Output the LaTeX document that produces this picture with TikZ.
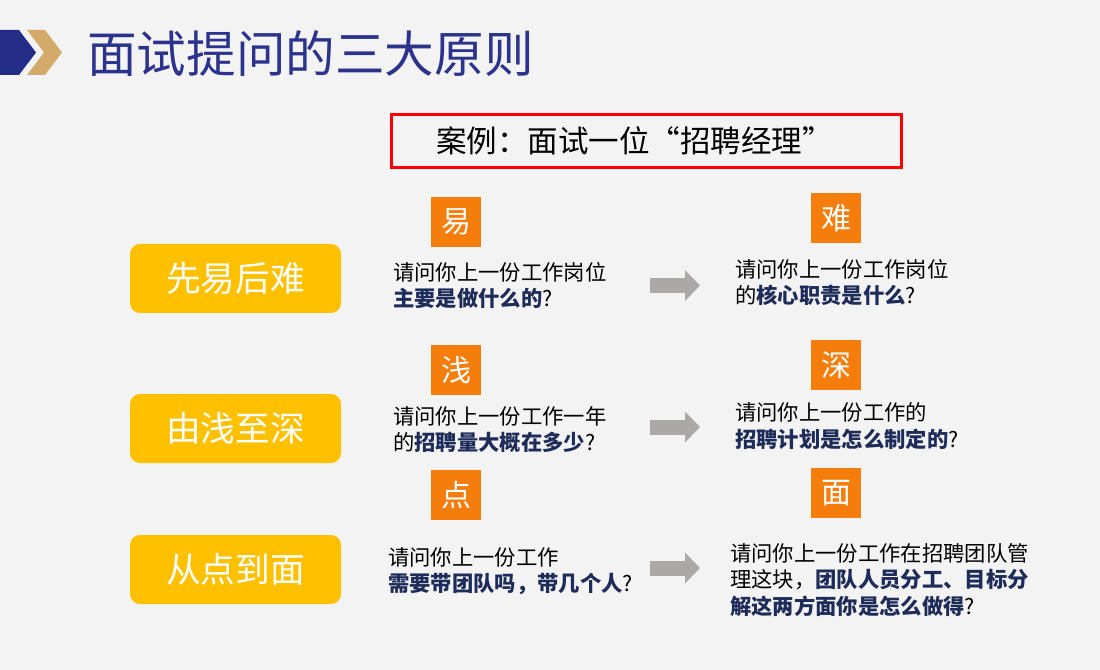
\documentclass[tikz,border=0pt]{standalone}
\usepackage{fontspec}
\setmainfont{Noto Sans CJK SC}
\usetikzlibrary{arrows.meta}
\definecolor{bgc}{HTML}{F3F3F3}
\definecolor{navy}{HTML}{232C87}
\definecolor{titleblue}{HTML}{2B338C}
\definecolor{gold}{HTML}{D4AA6A}
\definecolor{amber}{HTML}{FFC000}
\definecolor{orangebox}{HTML}{F47D0C}
\definecolor{grayarr}{HTML}{ACA8A8}
\definecolor{boldnavy}{HTML}{1E2C5A}
\definecolor{redline}{HTML}{FF0000}
\tikzset{
  px/.style={x=0.75pt,y=-0.75pt},
  principle/.style={fill=amber, rounded corners=7.5pt, minimum width=158.25pt, minimum height=51.75pt, inner sep=0pt, text=white, font=\fontsize{26}{30}\selectfont},
  orangesq/.style={fill=orangebox, minimum size=37.5pt, inner sep=0pt, text=white, font=\fontsize{22.5}{26}\selectfont},
  qline/.style={anchor=west, inner sep=0pt, text=black, font=\fontsize{16}{19}\selectfont},
  grayarrow/.style={draw=grayarr, line width=11.25pt, -{Triangle[length=11.25pt,width=22.5pt]}, grayarr},
}
\newcommand{\hl}[1]{\textcolor{boldnavy}{\bfseries #1}}
\begin{document}
\begin{tikzpicture}[px]
\useasboundingbox (0,0) rectangle (1100,670);
\fill[bgc] (0,0) rectangle (1100,670);
% chevrons
\fill[navy] (0,30) -- (19,30) -- (36,52.5) -- (19,75) -- (0,75) -- cycle;
\fill[gold] (27,30) -- (45,30) -- (62,52.5) -- (45,75) -- (27,75) -- (44,52.5) -- cycle;
\node[anchor=west, inner sep=0pt, text=titleblue, font=\fontsize{37.2}{41}\selectfont] (title) at (87,54) {面试提问的三大原则};
% case box
\node[draw=redline, line width=2.25pt, minimum width=382.5pt, minimum height=39.75pt, inner sep=0pt, font=\fontsize{22.9}{27}\selectfont] (case) at (646.5,141) {案例：面试一位“招聘经理”\hspace*{18pt}};
% principles
\node[principle] (p1) at (235.5,278.5) {先易后难};
\node[principle] (p2) at (235.5,428.5) {由浅至深};
\node[principle] (p3) at (235.5,569.5) {从点到面};
% orange squares
\node[orangesq] (o1) at (456,222) {易};
\node[orangesq] (o2) at (836,218) {难};
\node[orangesq] (o3) at (456,370) {浅};
\node[orangesq] (o4) at (836,365) {深};
\node[orangesq] (o5) at (456,495) {点};
\node[orangesq] (o6) at (836,493) {面};
% row 1
\node[qline] (l1a) at (393,272) {请问你上一份工作岗位};
\node[qline] (l1b) at (393,298) {\hl{主要是做什么的}?};
\node[qline] (r1a) at (735,269) {请问你上一份工作岗位};
\node[qline] (r1b) at (735,295) {的\hl{核心职责是什么}?};
% row 2
\node[qline] (l2a) at (393,416) {请问你上一份工作一年};
\node[qline] (l2b) at (393,442) {的\hl{招聘量大概在多少}?};
\node[qline] (r2a) at (735,412) {请问你上一份工作的};
\node[qline] (r2b) at (735,439) {\hl{招聘计划是怎么制定的}?};
% row 3
\node[qline] (l3a) at (388,557) {请问你上一份工作};
\node[qline] (l3b) at (388,584) {\hl{需要带团队吗，带几个人}?};
\node[qline] (r3a) at (730,553) {请问你上一份工作在招聘团队管};
\node[qline] (r3b) at (730,580) {理这块，\hl{团队人员分工、目标分}};
\node[qline] (r3c) at (730,606) {\hl{解这两方面你是怎么做得}?};
% arrows
\coordinate (a1s) at (650,285.5); \coordinate (a1e) at (700,285.5);
\coordinate (a2s) at (650,427);   \coordinate (a2e) at (700,427);
\coordinate (a3s) at (650,568);   \coordinate (a3e) at (700,568);
\draw[grayarrow] (a1s) -- (a1e);
\draw[grayarrow] (a2s) -- (a2e);
\draw[grayarrow] (a3s) -- (a3e);
\end{tikzpicture}
\end{document}
